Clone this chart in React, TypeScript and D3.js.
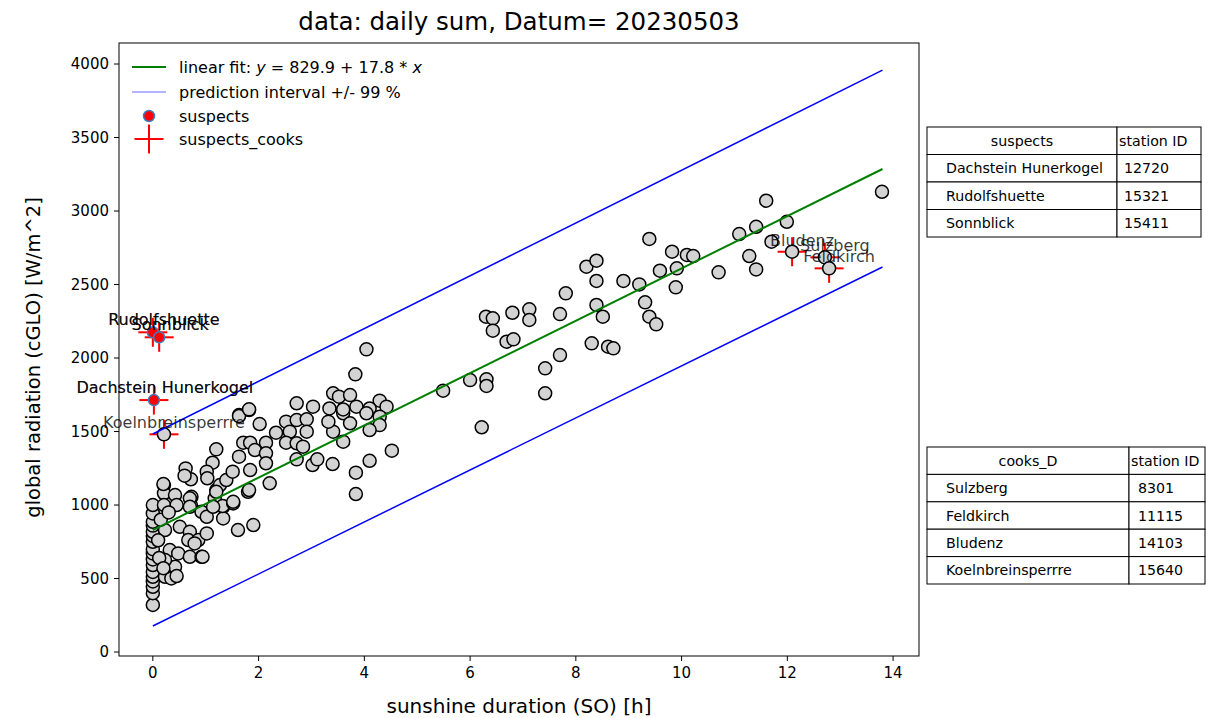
import * as d3 from "d3";

// gray scatter: sunshine duration [h] vs global radiation [W/m^2]
const sunshine = [
  0, 0, 0, 0, 0, 0, 0, 0, 0, 0, 0, 0, 0, 0, 0, 0, 0,
  0.21, 0.21, 0.21, 0.42, 0.45, 0.2, 0.23, 0.32, 0.48, 0.42, 0.23, 0.23, 0.35, 0.45, 0.51, 0.1, 0.15, 0.3, 0.12, 0.2,
  0.21,
  0.73, 0.72, 0.92, 1.02, 0.7, 0.67, 0.86, 1.02, 0.79, 0.7, 0.92, 0.62, 0.72, 0.7, 0.7, 0.94, 0.6,
  1.2, 1.17, 1.33, 1.33, 1.2, 1.13, 1.02, 1.27, 1.2, 1.32, 1.14, 1.39, 1.03,
  1.52, 1.61, 1.9, 1.8, 1.82, 1.63, 1.82, 1.63, 1.51, 1.84, 1.52, 1.71, 1.84, 1.93, 1.63, 1.82,
  2.02, 2.21, 2.14, 2.14, 2.14, 2.33,
  2.52, 2.72, 2.91, 2.59, 2.52, 2.72, 2.84, 2.72, 2.72, 2.91,
  3.02, 3.11, 3.03, 3.34, 3.41, 3.52, 3.41, 3.32, 3.4,
  3.73, 3.85, 3.6, 3.73, 3.6, 3.83, 3.84, 3.84, 3.6,
  4.04, 4.29, 4.42, 4.1, 4.04, 4.29, 4.29, 4.1, 4.52, 4.1,
  5.49, 6.0, 6.31, 6.31, 6.22, 6.3, 6.43, 6.43, 6.8, 6.69, 6.82,
  7.12, 7.12, 7.7, 7.81, 7.42, 7.42, 7.7,
  8.2, 8.39, 8.39, 8.9, 8.39, 8.51, 8.3, 8.61, 8.71,
  9.39, 9.82, 9.59, 9.91, 9.2, 9.89, 9.31, 9.39, 9.52,
  10.1, 10.22, 10.7, 11.09, 11.41, 11.6, 11.99, 11.7, 11.28, 11.41,
  12.09, 12.71, 12.79,
  13.79,
];
const radiation = [
  320, 400, 444, 480, 512, 545, 592, 630, 671, 700, 750, 790, 818, 860, 886, 943, 1000,
  1136, 1080, 1000, 1068, 1000, 1143, 830, 694, 671, 580, 626, 512, 501, 517, 852, 760, 900, 950, 640, 570,
  1481,
  1056, 1000, 954, 920, 818, 762, 762, 807, 739, 648, 648, 1249, 1175, 1046, 988, 648, 1200,
  1102, 1046, 988, 909, 1379, 1288, 1227, 1136, 1090, 993, 988, 1170, 1182,
  1011, 830, 864, 1090, 1102, 1612, 1646, 1329, 1227, 1238, 1022, 1424, 1424, 1374, 1605, 1651,
  1551, 1148, 1424, 1352, 1284, 1492,
  1567, 1578, 1583, 1499, 1424, 1420, 1397, 1311, 1692, 1499,
  1272, 1311, 1669, 1657, 1760, 1737, 1499, 1567, 1279,
  1748, 1669, 1624, 1556, 1431, 1889, 1220, 1075, 1650,
  2059, 1710, 1669, 1657, 1624, 1601, 1544, 1510, 1370, 1301,
  1778, 1850, 1855, 1810, 1529, 2281, 2270, 2186, 2308, 2111, 2127,
  2331, 2259, 2299, 2440, 1930, 1760, 2020,
  2621, 2662, 2524, 2524, 2361, 2281, 2100, 2077, 2066,
  2810, 2723, 2594, 2610, 2501, 2481, 2379, 2281, 2229,
  2701, 2694, 2583, 2843, 2893, 3070, 2927, 2791, 2694, 2603,
  2723, 2685, 2610,
  3131,
];

// fit and prediction interval end points
const fitX = [0, 13.8];
const fitY = [829.9, 3286];
const upperY = [1483, 3959];
const lowerY = [177, 2619];

// suspects (red dots)
const suspectNames = ["Dachstein Hunerkogel", "Rudolfshuette", "Sonnblick"];
const suspectIds = ["12720", "15321", "15411"];
const suspectX = [0.02, 0, 0.12];
const suspectY = [1714, 2175, 2141];

// cooks distance outliers (red crosses)
const cookNames = ["Sulzberg", "Feldkirch", "Bludenz", "Koelnbreinsperrre"];
const cookIds = ["8301", "11115", "14103", "15640"];
const cookX = [12.71, 12.79, 12.09, 0.21];
const cookY = [2685, 2610, 2723, 1481];
// suspects that are also cooks outliers
const crossX = [0.02, 0, 0.12];
const crossY = [1714, 2175, 2141];

const xTicks = [0, 2, 4, 6, 8, 10, 12, 14];
const yTicks = [0, 500, 1000, 1500, 2000, 2500, 3000, 3500, 4000];

const font = "DejaVu Sans, sans-serif";

const Table = ({ x, y, w1, w2, rowH, header, names, ids, idDx }) => {
  const rows = [[header, "station ID"], ...names.map((n, i) => [n, ids[i]])];
  return (
    <g fontFamily={font} fontSize={14.2} fill="#000">
      {rows.map((r, i) => (
        <g key={i}>
          <rect x={x} y={y + i * rowH} width={w1} height={rowH} fill="#fff" stroke="#000" strokeWidth={1} />
          <rect x={x + w1} y={y + i * rowH} width={w2} height={rowH} fill="#fff" stroke="#000" strokeWidth={1} />
          <text
            x={i === 0 ? x + w1 / 2 : x + 19}
            y={y + i * rowH + rowH / 2 + 5}
            textAnchor={i === 0 ? "middle" : "start"}
          >{r[0]}</text>
          <text x={x + w1 + (i === 0 ? 2 : idDx)} y={y + i * rowH + rowH / 2 + 5}>{r[1]}</text>
        </g>
      ))}
    </g>
  );
};

const Cross = ({ cx, cy, s = 14.5 }) => (
  <g stroke="red" strokeWidth={2}>
    <line x1={cx - s} x2={cx + s} y1={cy} y2={cy} />
    <line x1={cx} x2={cx} y1={cy - s} y2={cy + s} />
  </g>
);

export default function App() {
  const width = 1208;
  const height = 718;
  const left = 119, right = 919, top = 43, bottom = 656;

  const x = d3.scaleLinear([-0.64, 14.49], [left, right]);
  const y = d3.scaleLinear([-27, 4143], [bottom, top]);
  const line = d3.line<number>((d, i) => x(fitX[i]), (d) => y(d));

  return (
    <svg width={width} height={height} style={{ position: "absolute", left: 0, top: 0, background: "#fff" }} fontFamily={font}>
      <rect width={width} height={height} fill="#fff" />
      <text x={(left + right) / 2} y={30} textAnchor="middle" fontSize={24.5} fill="#000">data: daily sum, Datum= 20230503</text>

      {/* crosses under the points */}
      {cookX.map((d, i) => <Cross key={"c" + i} cx={x(d)} cy={y(cookY[i])} />)}
      {crossX.map((d, i) => <Cross key={"s" + i} cx={x(d)} cy={y(crossY[i])} />)}

      <g fill="#d3d3d3" stroke="#000" strokeWidth={1.5}>
        {sunshine.map((d, i) => <circle key={i} cx={x(d)} cy={y(radiation[i])} r={6.5} />)}
      </g>
      <g fill="red" stroke="#3d7fc0" strokeWidth={1.5}>
        {suspectX.map((d, i) => <circle key={i} cx={x(d)} cy={y(suspectY[i])} r={5.5} />)}
      </g>

      <path d={line(upperY)} fill="none" stroke="blue" strokeWidth={1.5} />
      <path d={line(lowerY)} fill="none" stroke="blue" strokeWidth={1.5} />
      <path d={line(fitY)} fill="none" stroke="green" strokeWidth={2} />

      {/* point labels */}
      <g fontSize={16} textAnchor="middle" fill="#000" fillOpacity={0.78}>
        {suspectNames.map((n, i) => <text key={"sl" + i} x={x(suspectX[i]) + 11} y={y(suspectY[i]) - 7}>{n}</text>)}
        {suspectNames.map((n, i) => <text key={"sc" + i} x={x(crossX[i]) + 11} y={y(crossY[i]) - 7}>{n}</text>)}
        {cookNames.map((n, i) => <text key={"cl" + i} x={x(cookX[i]) + 10} y={y(cookY[i]) - 6}>{n}</text>)}
      </g>

      {/* frame and axes */}
      <rect x={left} y={top} width={right - left} height={bottom - top} fill="none" stroke="#000" strokeWidth={1} />
      <g fontSize={15} fill="#000">
        {xTicks.map((t) => (
          <g key={t}>
            <line x1={x(t)} x2={x(t)} y1={bottom} y2={bottom + 5} stroke="#000" />
            <text x={x(t)} y={bottom + 22} textAnchor="middle">{t}</text>
          </g>
        ))}
        {yTicks.map((t) => (
          <g key={t}>
            <line x1={left - 5} x2={left} y1={y(t)} y2={y(t)} stroke="#000" />
            <text x={left - 10} y={y(t) + 5} textAnchor="end">{t}</text>
          </g>
        ))}
      </g>
      <text x={(left + right) / 2} y={713} textAnchor="middle" fontSize={20} fill="#000">sunshine duration (SO) [h]</text>
      <text transform={`translate(40,${(top + bottom) / 2 + 8}) rotate(-90)`} textAnchor="middle" fontSize={19.5} fill="#000">global radiation (cGLO) [W/m^2]</text>

      {/* legend */}
      <g fontSize={16} fill="#000">
        <line x1={132} x2={166} y1={67} y2={67} stroke="green" strokeWidth={2} />
        <text x={179} y={73}>linear fit: <tspan fontStyle="italic">y</tspan> = 829.9 + 17.8 * <tspan fontStyle="italic">x</tspan></text>
        <line x1={132} x2={166} y1={92} y2={92} stroke="blue" strokeWidth={1} strokeOpacity={0.6} />
        <text x={179} y={98}>prediction interval +/- 99 %</text>
        <circle cx={149} cy={116} r={5.5} fill="red" stroke="#3d7fc0" strokeWidth={1.5} />
        <text x={179} y={122}>suspects</text>
        <Cross cx={149} cy={139} />
        <text x={179} y={145}>suspects_cooks</text>
      </g>

      <Table x={927} y={127} w1={190} w2={84} rowH={27.5} header="suspects" names={suspectNames} ids={suspectIds} idDx={7} />
      <Table x={927} y={447} w1={202} w2={76} rowH={27.4} header="cooks_D" names={cookNames} ids={cookIds} idDx={9} />
    </svg>
  );
}
